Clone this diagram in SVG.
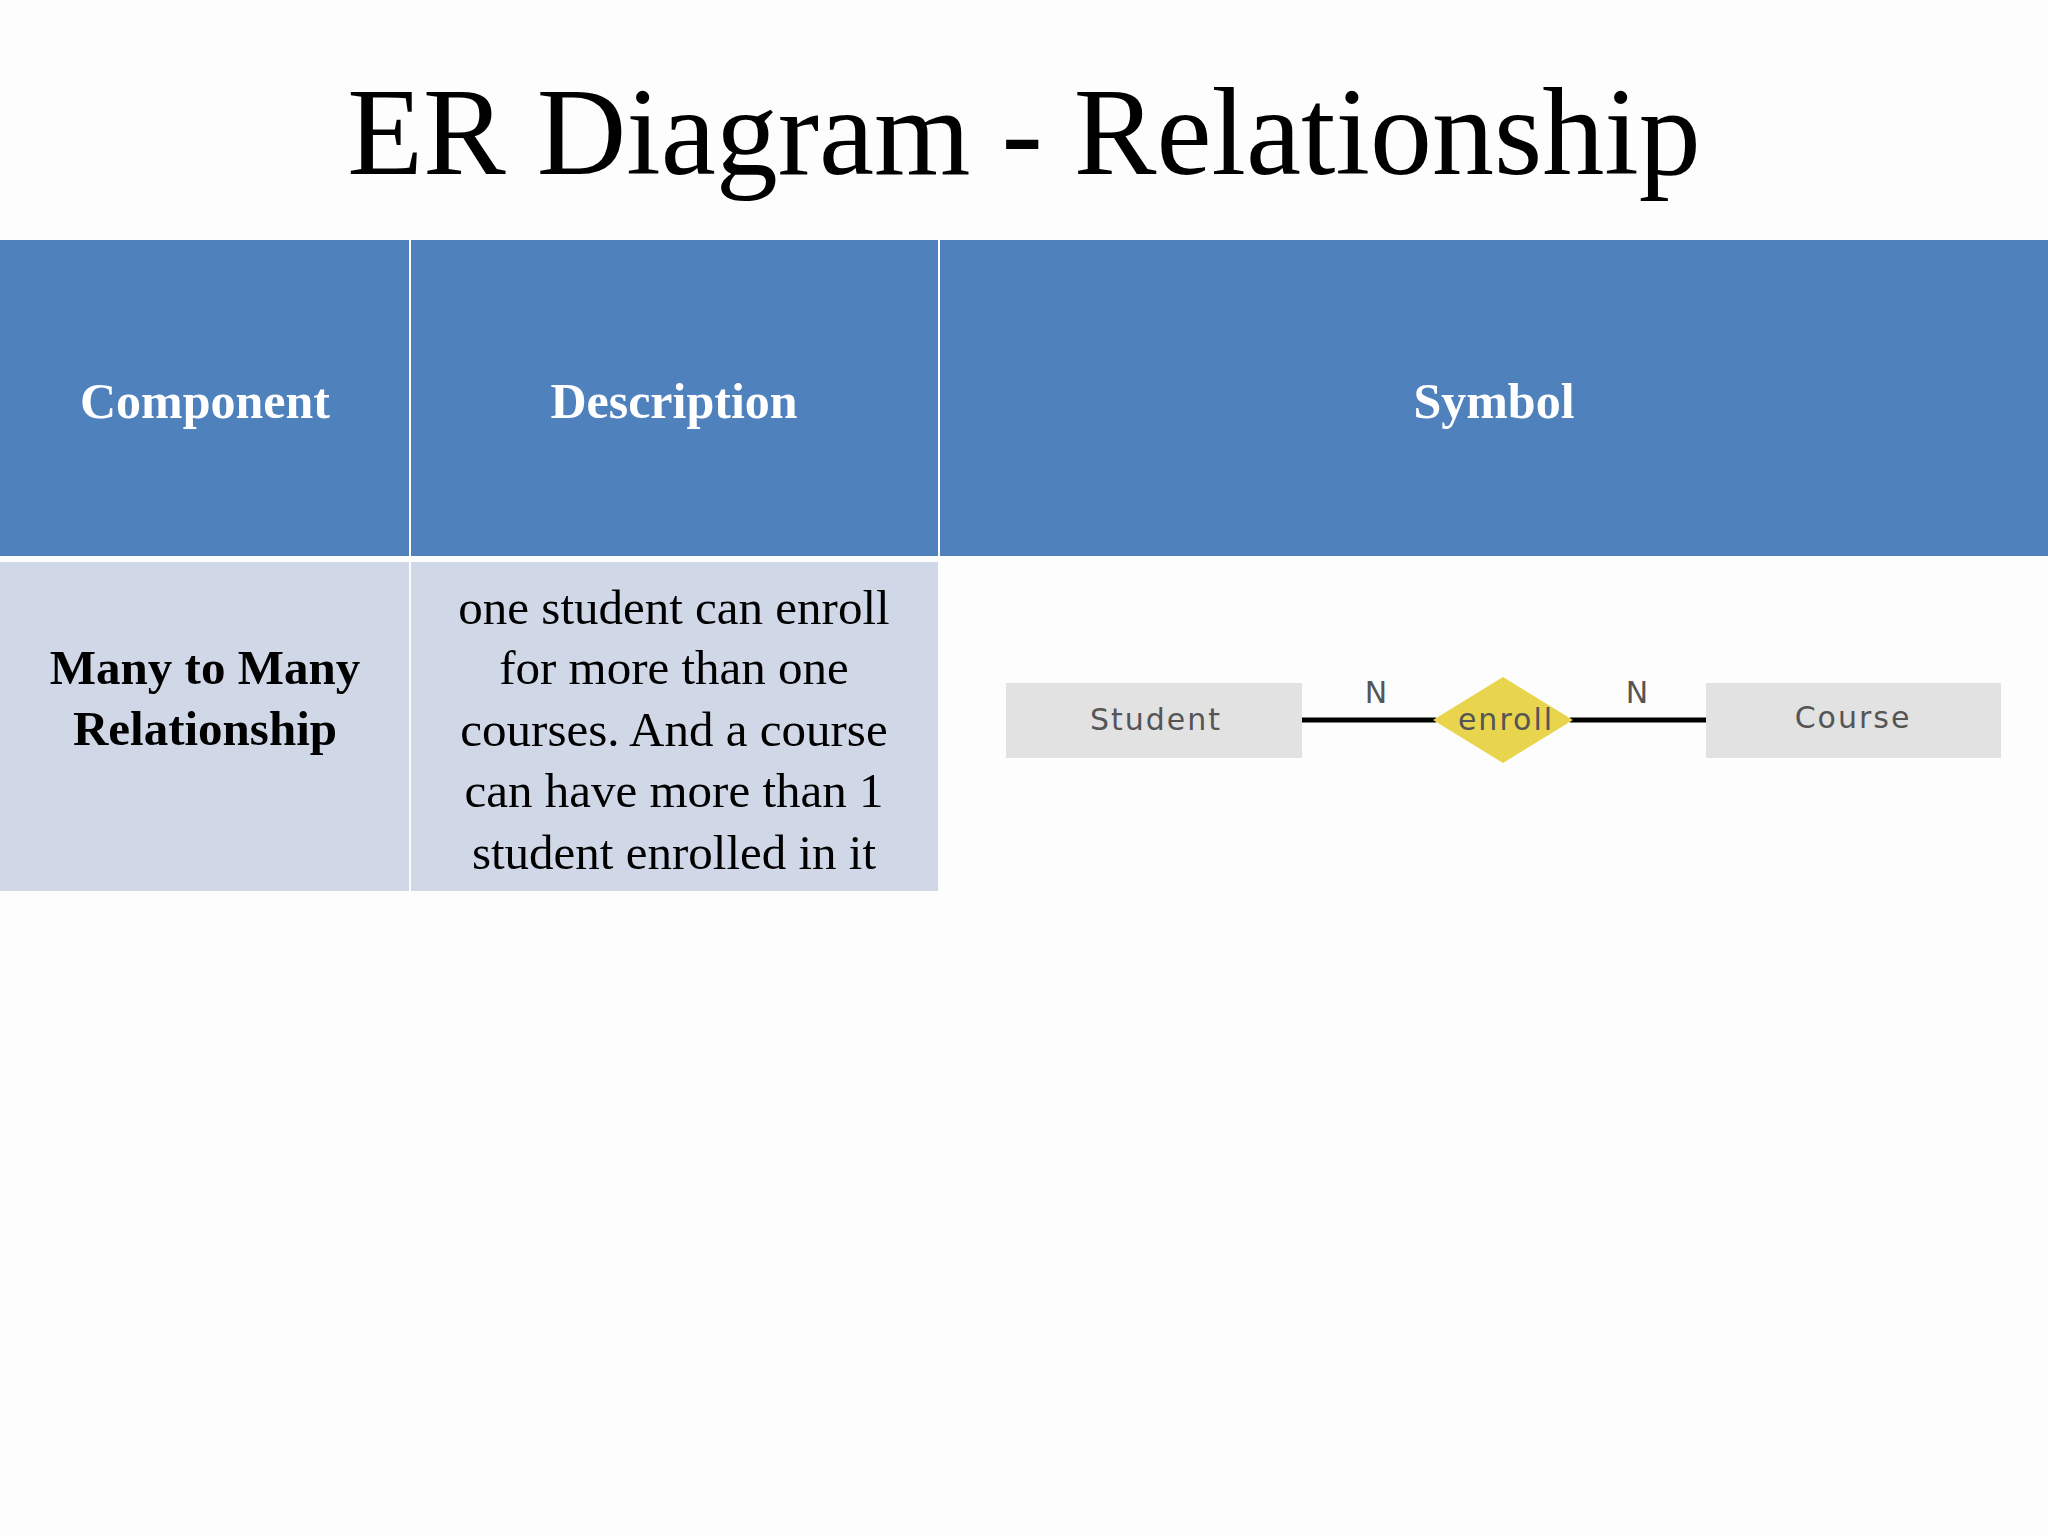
<svg xmlns="http://www.w3.org/2000/svg" width="2048" height="1536" viewBox="0 0 2048 1536">
<style>
.hd{fill:#4f81bd}.bd{fill:#d0d8e8}
.ht{font-family:"Liberation Serif",serif;font-weight:bold;font-size:50px;fill:#fff;text-anchor:middle}
.bt{font-family:"Liberation Serif",serif;font-size:49px;fill:#000;text-anchor:middle}
.st{font-family:"DejaVu Sans",sans-serif;font-size:30px;fill:#555;text-anchor:middle;letter-spacing:2px}
.ent{fill:#e2e2e2}
.ln{stroke:#000;stroke-width:5}
</style>
<rect width="2048" height="1536" fill="#fdfdfd"/>
<text x="1024" y="174" font-family="Liberation Serif,serif" font-size="124" text-anchor="middle">ER Diagram - Relationship</text>
<g id="header">
<rect class="hd" x="0" y="240" width="409" height="316"/>
<rect class="hd" x="411" y="240" width="527" height="316"/>
<rect class="hd" x="940" y="240" width="1108" height="316"/>
<text class="ht" x="205" y="418">Component</text>
<text class="ht" x="674" y="418">Description</text>
<text class="ht" x="1494" y="418">Symbol</text>
</g>
<g id="row">
<rect class="bd" x="0" y="562" width="409" height="329"/>
<rect class="bd" x="411" y="562" width="527" height="329"/>
<text class="bt" x="205" y="684" font-weight="bold">Many to Many</text>
<text class="bt" x="205" y="745" font-weight="bold">Relationship</text>
<text class="bt" x="674" y="624">one student can enroll</text>
<text class="bt" x="674" y="684">for more than one</text>
<text class="bt" x="674" y="746">courses. And a course</text>
<text class="bt" x="674" y="807">can have more than 1</text>
<text class="bt" x="674" y="869">student enrolled in it</text>
</g>
<g id="connectors">
<line class="ln" x1="1302" y1="720" x2="1436" y2="720"/>
<line class="ln" x1="1570" y1="720" x2="1706" y2="720"/>
<text class="st" x="1377" y="703" fill="#000">N</text>
<text class="st" x="1638" y="703" fill="#000">N</text>
</g>
<g id="student"><rect class="ent" x="1006" y="683" width="296" height="75"/><text class="st" x="1156" y="730">Student</text></g>
<g id="enroll"><polygon points="1503,677 1573,720 1503,763 1433,720" fill="#e8d44d"/><text class="st" x="1506" y="730" font-size="24" letter-spacing="1">enroll</text></g>
<g id="course"><rect class="ent" x="1706" y="683" width="295" height="75"/><text class="st" x="1853" y="728">Course</text></g>
</svg>
